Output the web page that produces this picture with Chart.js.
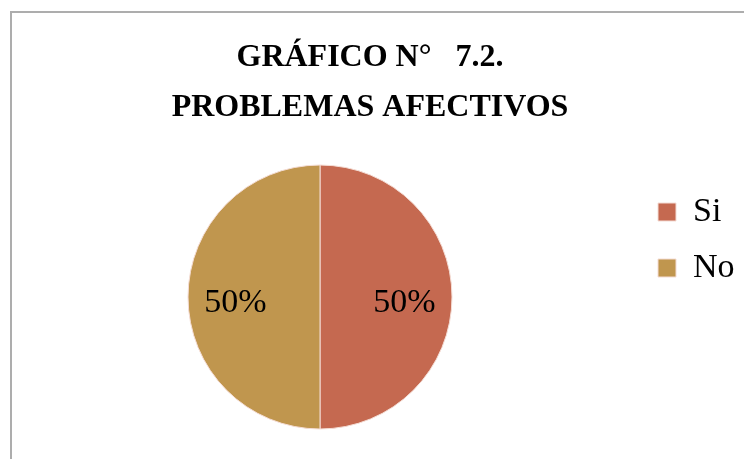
<!DOCTYPE html>
<html>
<head>
<meta charset="utf-8">
<script src="https://cdn.jsdelivr.net/npm/chart.js@4/dist/chart.umd.min.js"></script>
<style>
  html, body { margin: 0; padding: 0; background: #fff; }
  #wrap { position: relative; width: 744px; height: 459px; overflow: hidden; }
  #frame { position: absolute; left: 10px; top: 11px; width: 800px; height: 500px; border: 2px solid #adadad; box-sizing: border-box; }
  #chart { position: absolute; left: 0; top: 0; }
</style>
</head>
<body>
<div id="wrap">
  <div id="frame"></div>
  <canvas id="chart" width="744" height="459"></canvas>
</div>
<script>
// chart data
const titleLines = ['GRÁFICO N°   7.2.', 'PROBLEMAS AFECTIVOS'];
const categories = ['Si', 'No'];
const values = [50, 50];
const colors = ['#C56950', '#C0964E'];

// draws the percentage inside each slice
const sliceLabels = {
    id: 'sliceLabels',
    afterDatasetsDraw(chart) {
        const ctx = chart.ctx;
        const meta = chart.getDatasetMeta(0);
        const total = values.reduce((a, b) => a + b, 0);
        ctx.save();
        ctx.font = '34px "Liberation Serif", "Times New Roman", serif';
        ctx.fillStyle = '#000';
        ctx.textAlign = 'center';
        ctx.textBaseline = 'middle';
        meta.data.forEach((arc, i) => {
            const p = arc.getProps(['x', 'y', 'startAngle', 'endAngle', 'outerRadius'], true);
            const mid = (p.startAngle + p.endAngle) / 2;
            const r = p.outerRadius * 0.64;
            const txt = Math.round(values[i] / total * 100) + '%';
            ctx.fillText(txt, p.x + Math.cos(mid) * r, p.y + Math.sin(mid) * r + 6);
        });
        ctx.restore();
    }
};

new Chart(document.getElementById('chart'), {
    type: 'pie',
    data: {
        labels: categories,
        datasets: [{
            data: values,
            backgroundColor: colors,
            borderColor: '#f4dcd4',
            borderWidth: 1,
            radius: 132
        }]
    },
    options: {
        responsive: false,
        animation: false,
        layout: { padding: { left: 4, right: 8, top: 33, bottom: 12 } },
        plugins: {
            tooltip: { enabled: false },
            title: {
                display: true,
                text: titleLines,
                color: '#000',
                font: { family: '"Liberation Serif", "Times New Roman", serif', size: 32, weight: 'bold', lineHeight: 1.5625 },
                padding: { top: 0, bottom: 14 }
            },
            legend: {
                position: 'right',
                maxWidth: 100,
                labels: {
                    color: '#000',
                    boxWidth: 18,
                    boxHeight: 18,
                    padding: 22,
                    font: { family: '"Liberation Serif", "Times New Roman", serif', size: 34 }
                }
            }
        }
    },
    plugins: [sliceLabels]
});
</script>
</body>
</html>
